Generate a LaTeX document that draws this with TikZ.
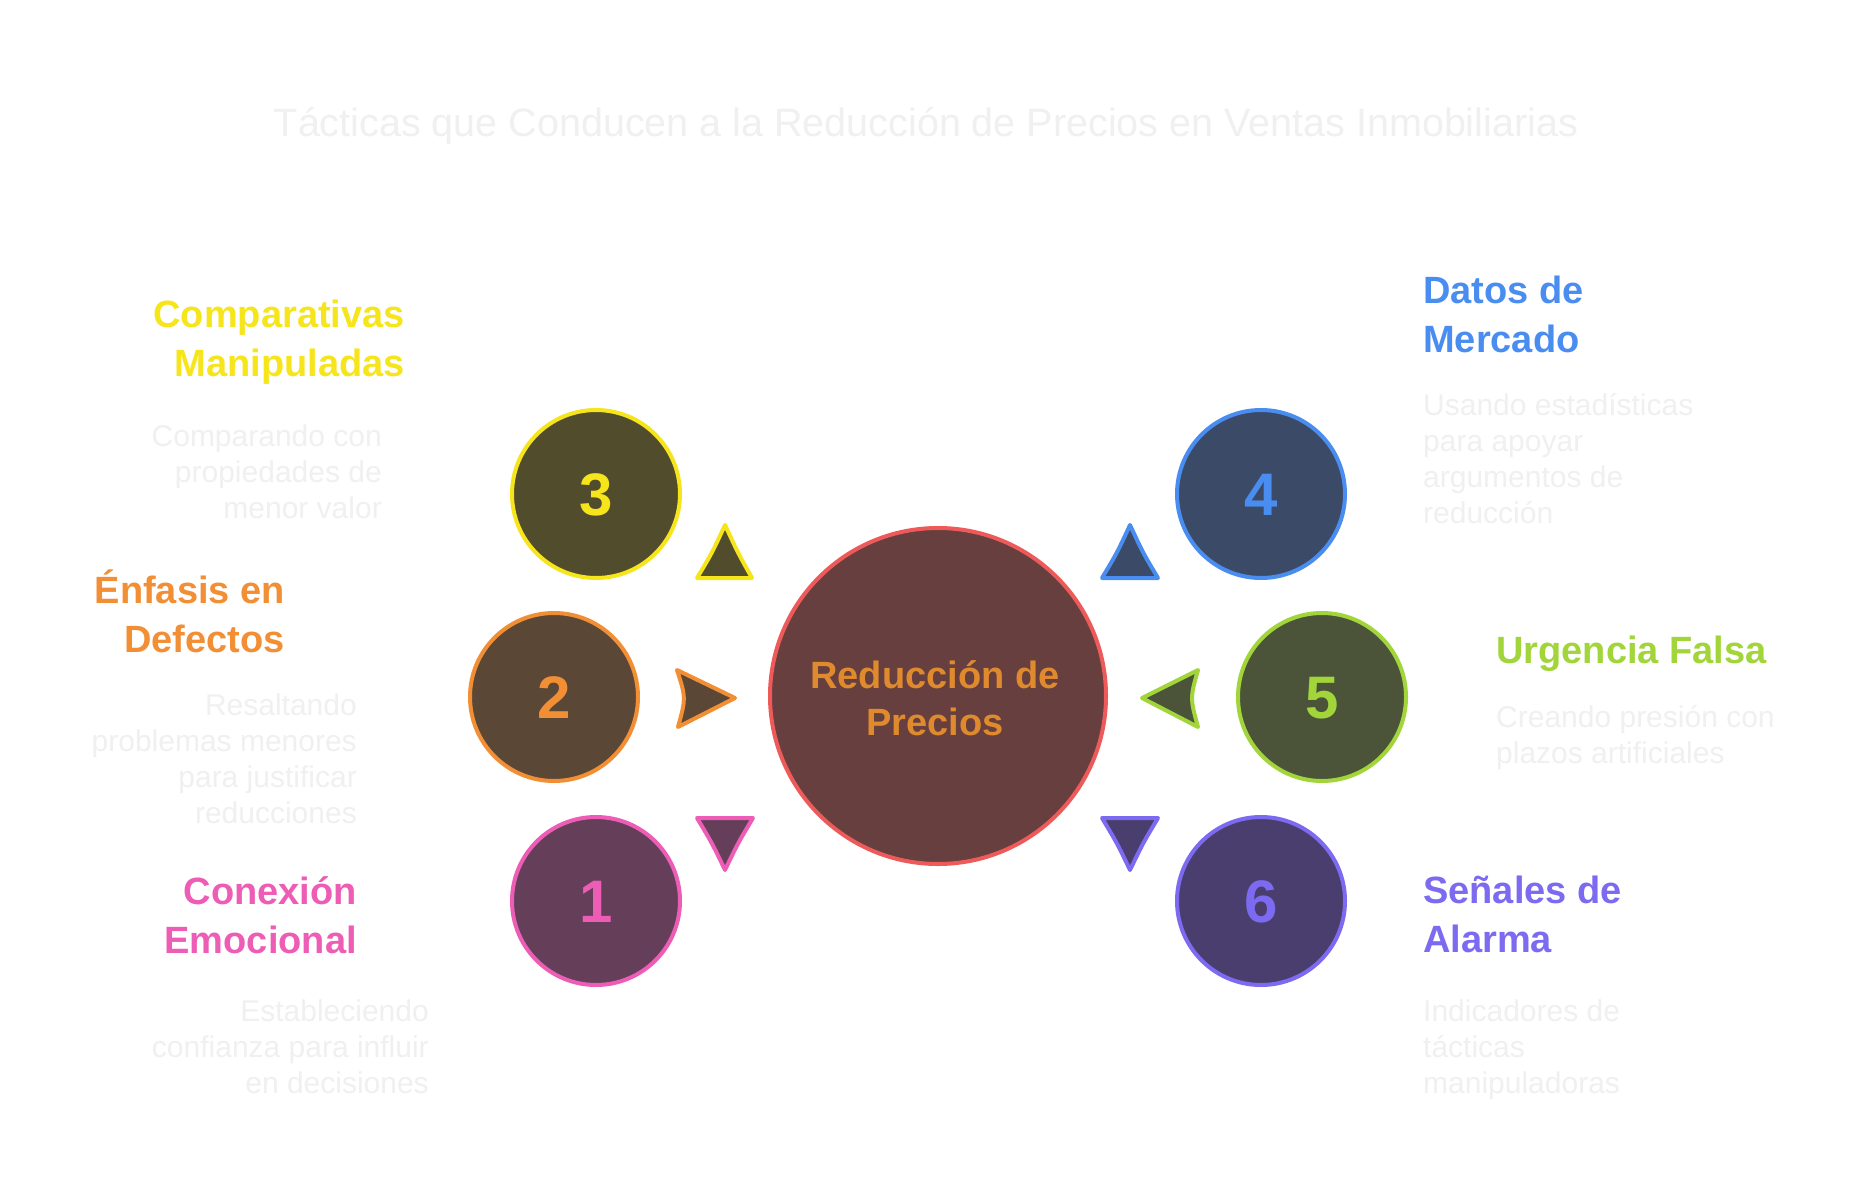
\documentclass[tikz,border=0pt]{standalone}
\usepackage{fontspec}
\setmainfont{Liberation Sans}
\definecolor{faint}{HTML}{F0F0F0}
\definecolor{cYel}{HTML}{F7E51C}
\definecolor{cOra}{HTML}{F28F35}
\definecolor{cPin}{HTML}{EE5DB5}
\definecolor{cBlu}{HTML}{4A8DF0}
\definecolor{cGre}{HTML}{A2D53A}
\definecolor{cPur}{HTML}{7C6AF0}
\definecolor{cRed}{HTML}{EE5A5A}
\definecolor{cCtx}{HTML}{E08A2E}
\definecolor{fYel}{HTML}{514D2C}
\definecolor{fOra}{HTML}{5B4735}
\definecolor{fPin}{HTML}{653F5A}
\definecolor{fBlu}{HTML}{3B4A67}
\definecolor{fGre}{HTML}{4B5338}
\definecolor{fPur}{HTML}{4A3E6E}
\definecolor{fRed}{HTML}{673F3F}
\tikzset{
  x=1pt, y=-1pt,
  bubble/.style={circle, minimum size=168pt, inner sep=0pt, line width=4pt},
  hub/.style={circle, minimum size=336pt, inner sep=0pt, line width=4pt, draw=cRed, fill=fRed},
  numtxt/.style={font=\bfseries\fontsize{60}{60}\selectfont, inner sep=0pt, anchor=base},
  headL/.style={font=\bfseries\fontsize{38}{49}\selectfont, align=right, anchor=base east, inner sep=0pt},
  headR/.style={font=\bfseries\fontsize{38}{49}\selectfont, align=left, anchor=base west, inner sep=0pt},
  descL/.style={font=\fontsize{30}{36}\selectfont, text=faint, align=right, anchor=base east, inner sep=0pt},
  descR/.style={font=\fontsize{30}{36}\selectfont, text=faint, align=left, anchor=base west, inner sep=0pt},
  tri/.style={line width=4pt, line join=round}
}
\begin{document}
\begin{tikzpicture}
\useasboundingbox (0,0) rectangle (1852,1204);
\fill[white] (0,0) rectangle (1852,1204);

% title
\node[font=\fontsize{39.5}{46}\selectfont, text=faint, anchor=base, inner sep=0pt] (title) at (926,136)
  {Tácticas que Conducen a la Reducción de Precios en Ventas Inmobiliarias};

% hub
\node[hub] (hub) at (938,696) {};
\node[font=\bfseries\fontsize{38}{47}\selectfont, text=cCtx, align=center, anchor=base, inner sep=0pt] (hubtxt) at (935,735)
  {Reducción de\\Precios};

% bubbles
\node[bubble, draw=cYel, fill=fYel] (c3) at (596,494) {};
\node[bubble, draw=cOra, fill=fOra] (c2) at (554,697) {};
\node[bubble, draw=cPin, fill=fPin] (c1) at (596,901) {};
\node[bubble, draw=cBlu, fill=fBlu] (c4) at (1261,494) {};
\node[bubble, draw=cGre, fill=fGre] (c5) at (1322,697) {};
\node[bubble, draw=cPur, fill=fPur] (c6) at (1261,901) {};

\node[numtxt, text=cYel] (n3) at (596,515.5) {3};
\node[numtxt, text=cOra] (n2) at (554,718.5) {2};
\node[numtxt, text=cPin] (n1) at (596,922.5) {1};
\node[numtxt, text=cBlu] (n4) at (1261,515.5) {4};
\node[numtxt, text=cGre] (n5) at (1322,718.5) {5};
\node[numtxt, text=cPur] (n6) at (1261,922.5) {6};

% pointer triangles
\draw[tri, draw=cYel, fill=fYel] (697,578) .. controls (712,553) .. (725,525) .. controls (738,553) .. (752,578) -- cycle;
\draw[tri, draw=cBlu, fill=fBlu] (1102,578) .. controls (1117,553) .. (1130,525) .. controls (1143,553) .. (1158,578) -- cycle;
\draw[tri, draw=cPin, fill=fPin] (697,818) -- (753,818) .. controls (738,843) .. (725,870) .. controls (712,843) .. cycle;
\draw[tri, draw=cPur, fill=fPur] (1102,818) -- (1158,818) .. controls (1143,843) .. (1130,870) .. controls (1117,843) .. cycle;
\draw[tri, draw=cOra, fill=fOra] (677,670) -- (735,698) -- (678,727) .. controls (686,698) .. cycle;
\draw[tri, draw=cGre, fill=fGre] (1198,670) -- (1142,698) -- (1198,727) .. controls (1190,698) .. cycle;

% left labels (anchor = baseline of last line)
\node[headL, text=cYel] (h3) at (405,376) {Comparativas\\Manipuladas};
\node[descL] (d3) at (382,518) {Comparando con\\propiedades de\\menor valor};
\node[headL, text=cOra] (h2) at (285,652) {Énfasis en\\Defectos};
\node[descL] (d2) at (357,823) {Resaltando\\problemas menores\\para justificar\\reducciones};
\node[headL, text=cPin] (h1) at (357,953) {Conexión\\Emocional};
\node[descL] (d1) at (429,1093) {Estableciendo\\confianza para influir\\en decisiones};

% right labels
\node[headR, text=cBlu] (h4) at (1423,352) {Datos de\\Mercado};
\node[descR] (d4) at (1423,523) {Usando estadísticas\\para apoyar\\argumentos de\\reducción};
\node[headR, text=cGre] (h5) at (1496,663) {Urgencia Falsa};
\node[descR] (d5) at (1496,763) {Creando presión con\\plazos artificiales};
\node[headR, text=cPur] (h6) at (1423,952) {Señales de\\Alarma};
\node[descR] (d6) at (1423,1093) {Indicadores de\\tácticas\\manipuladoras};
\end{tikzpicture}
\end{document}
